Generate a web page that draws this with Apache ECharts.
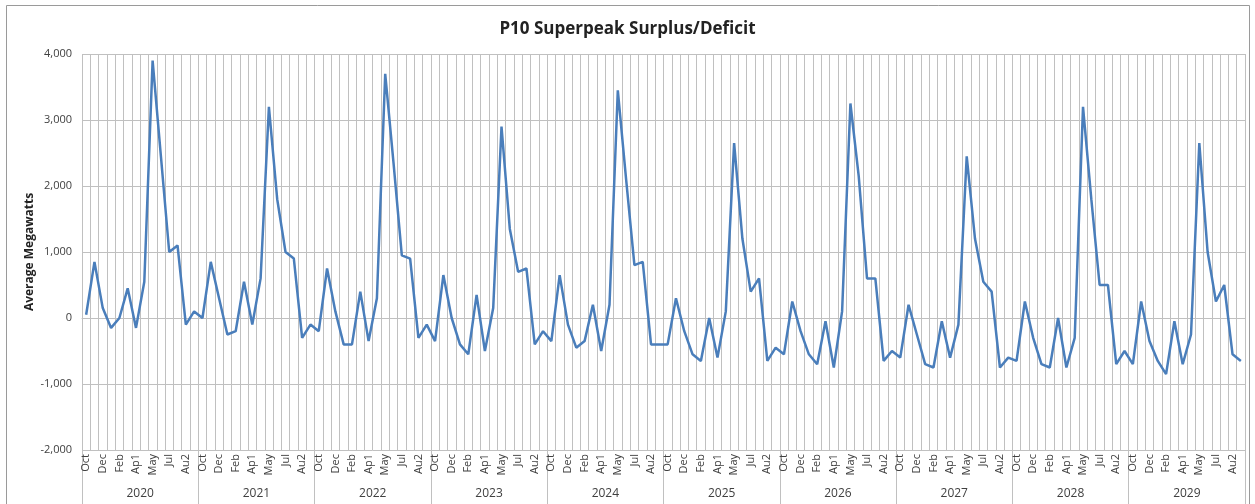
<!DOCTYPE html>
<html>
<head>
<meta charset="utf-8">
<style>
  html, body { margin: 0; padding: 0; background: #fff; }
  #main { width: 1255px; height: 504px; }
</style>
<script src="https://cdn.jsdelivr.net/npm/echarts@6/dist/echarts.min.js"></script>
</head>
<body>
<div id="main"></div>
<script>
// 14 periods of a water year, Oct .. Sep (April and August split in halves)
const periods = ['Oct', 'Nov', 'Dec', 'Jan', 'Feb', 'Mar', 'Ap1', 'Ap2', 'May', 'Jun', 'Jul', 'Au1', 'Au2', 'Sep']
const years = ['2020', '2021', '2022', '2023', '2024', '2025', '2026', '2027', '2028', '2029']

// average megawatts per period, one array per year
const y2020 = [50, 850, 150, -150, 0, 450, -150, 550, 3900, 2450, 1000, 1100, -100, 100]
const y2021 = [0, 850, 300, -250, -200, 550, -100, 600, 3200, 1800, 1000, 900, -300, -100]
const y2022 = [-200, 750, 100, -400, -400, 400, -350, 300, 3700, 2350, 950, 900, -300, -100]
const y2023 = [-350, 650, 0, -400, -550, 350, -500, 150, 2900, 1350, 700, 750, -400, -200]
const y2024 = [-350, 650, -100, -450, -350, 200, -500, 200, 3450, 2100, 800, 850, -400, -400]
const y2025 = [-400, 300, -200, -550, -650, 0, -600, 100, 2650, 1200, 400, 600, -650, -450]
const y2026 = [-550, 250, -200, -550, -700, -50, -750, 100, 3250, 2150, 600, 600, -650, -500]
const y2027 = [-600, 200, -250, -700, -750, -50, -600, -100, 2450, 1200, 550, 400, -750, -600]
const y2028 = [-650, 250, -300, -700, -750, 0, -750, -300, 3200, 1800, 500, 500, -700, -500]
const y2029 = [-700, 250, -350, -650, -850, -50, -700, -250, 2650, 1000, 250, 500, -550, -650]

const yearValues = [y2020, y2021, y2022, y2023, y2024, y2025, y2026, y2027, y2028, y2029]

// 把每年的数据拼成一条序列
const categories = []
const values = []
years.forEach((yr, k) => {
  periods.forEach((p, j) => {
    categories.push(p)
    values.push(yearValues[k][j])
  })
})

const font = 'Open Sans, Liberation Sans, sans-serif'
const gridColor = '#c0c0c0'

const myChart = echarts.init(document.getElementById('main'))
const option = {
  backgroundColor: '#fff',
  animation: false,
  title: {
    text: 'P10 Superpeak Surplus/Deficit',
    left: 'center',
    top: 16,
    textStyle: { fontFamily: font, fontSize: 17, fontWeight: 'bold', color: '#222' }
  },
  graphic: [
    {
      type: 'rect',
      shape: { x: 6.5, y: 5.5, width: 1243, height: 520 },
      style: { fill: null, stroke: '#9a9a9a', lineWidth: 1 },
      silent: true
    },
    // y轴标题
    {
      type: 'text',
      x: 30,
      y: 252,
      rotation: Math.PI / 2,
      style: {
        text: 'Average Megawatts',
        fontFamily: font,
        fontSize: 12,
        fontWeight: 'bold',
        fill: '#222',
        align: 'center',
        verticalAlign: 'middle'
      },
      silent: true
    }
  ],
  grid: { left: 82, right: 10, top: 54, bottom: 54 },
  xAxis: [
    {
      type: 'category',
      data: categories,
      boundaryGap: true,
      axisLine: { show: true, lineStyle: { color: gridColor } },
      axisTick: { show: false },
      splitLine: { show: true, interval: 0, lineStyle: { color: gridColor, width: 1 } },
      axisLabel: {
        interval: 1,
        rotate: 90,
        margin: 4,
        fontFamily: font,
        fontSize: 11,
        color: '#404040'
      }
    },
    {
      type: 'category',
      data: years,
      position: 'bottom',
      boundaryGap: true,
      axisLine: { show: false },
      axisTick: { show: true, interval: 0, length: 54, lineStyle: { color: gridColor } },
      splitLine: { show: false },
      axisLabel: {
        interval: 0,
        margin: 38,
        fontFamily: font,
        fontSize: 12,
        color: '#404040'
      }
    }
  ],
  yAxis: {
    type: 'value',
    min: -2000,
    max: 4000,
    interval: 1000,
    axisLine: { show: false },
    axisTick: { show: false },
    splitLine: { lineStyle: { color: gridColor, width: 1 } },
    axisLabel: {
      margin: 10,
      fontFamily: font,
      fontSize: 11,
      color: '#404040',
      formatter: v => v.toLocaleString('en-US')
    }
  },
  series: [
    {
      type: 'line',
      xAxisIndex: 0,
      data: values,
      showSymbol: false,
      symbol: 'none',
      lineStyle: { color: '#4a7ebb', width: 2.5 },
      z: 5
    }
  ]
}

option && myChart.setOption(option)
window.addEventListener('resize', () => {
  myChart.resize()
})
</script>
</body>
</html>
